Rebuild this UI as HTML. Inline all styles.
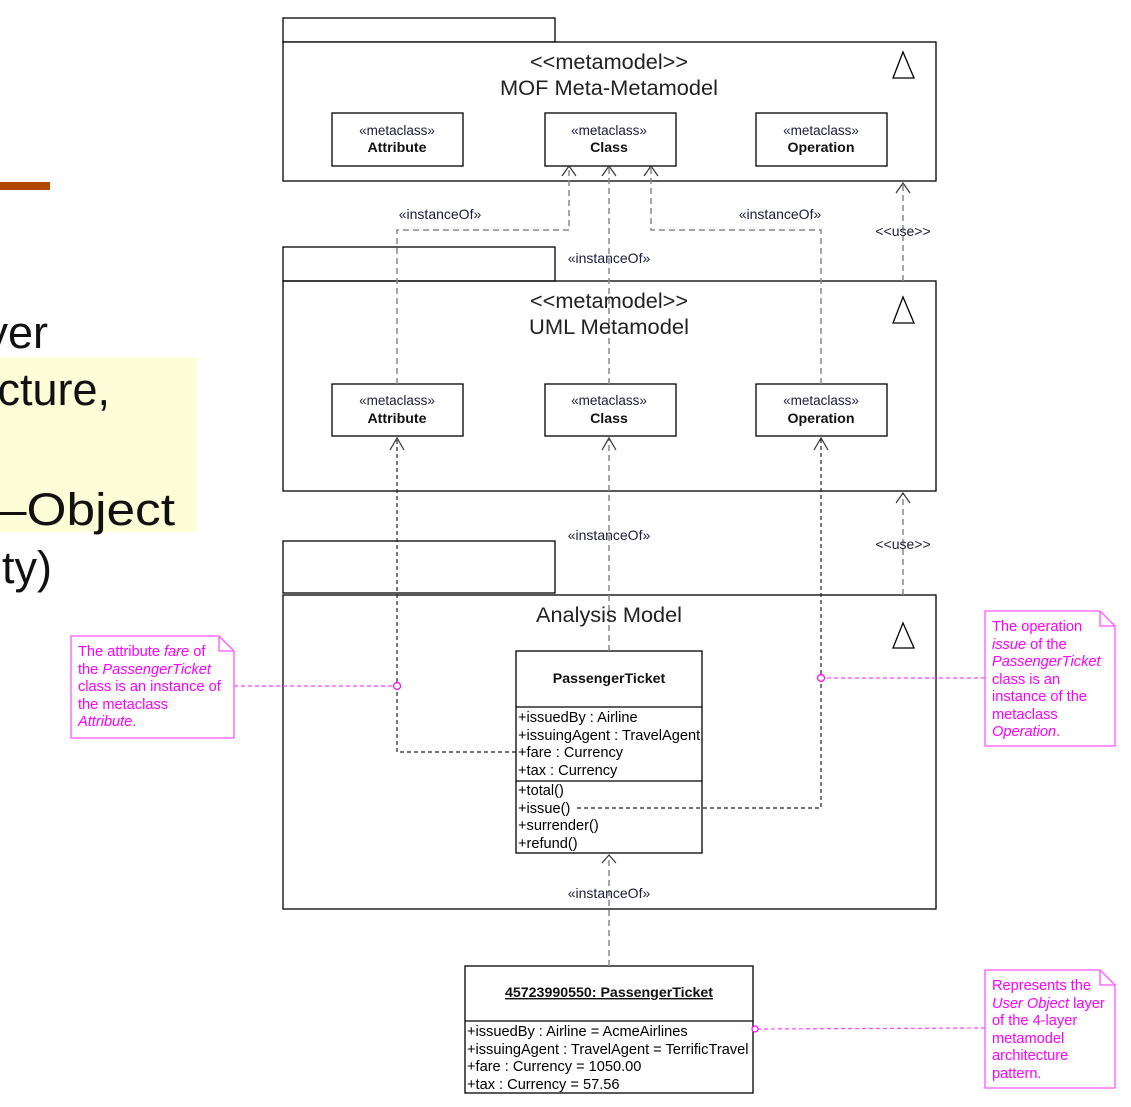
<!DOCTYPE html>
<html><head><meta charset="utf-8"><style>
html,body{margin:0;padding:0;background:#fff;}
svg{display:block;font-family:"Liberation Sans",Arial,sans-serif;}
.st{font-size:13.5px;fill:#1a1a40;}
.bn{font-size:14.2px;font-weight:bold;fill:#111;}
.at{font-size:14.6px;fill:#000;}
.lb{font-size:14px;fill:#1a1a40;}
.nt{font-size:14.6px;fill:#ff00ff;}
.tt{font-size:21px;fill:#222;}
</style></head><body>
<svg width="1131" height="1107" viewBox="0 0 1131 1107" xmlns="http://www.w3.org/2000/svg">
<rect x="0" y="182" width="50" height="8" fill="#b04800"/>
<rect x="0" y="357" width="197" height="175" fill="#fdfdd8"/>
<g font-size="45" fill="#111">
<text x="48" y="348" text-anchor="end">yer</text>
<text x="110" y="405" text-anchor="end">cture,</text>
<text x="-2" y="525" textLength="177" lengthAdjust="spacingAndGlyphs">–Object</text>
<text x="52" y="583" text-anchor="end">ty)</text>
</g>

<g fill="none" stroke="#000" stroke-width="1.3">
<rect x="283" y="18" width="272" height="24"/>
<rect x="283" y="42" width="653" height="139" fill="#fff"/>
<polygon points="903,52 893,78 914,78"/>
<rect x="332" y="113" width="131" height="53"/>
<rect x="545" y="113" width="131" height="53"/>
<rect x="756" y="113" width="131" height="53"/>
<rect x="283" y="247" width="272" height="34"/>
<rect x="283" y="281" width="653" height="210"/>
<polygon points="903,297 893,323 914,323"/>
<rect x="332" y="384" width="131" height="52"/>
<rect x="545" y="384" width="131" height="52"/>
<rect x="756" y="384" width="131" height="52"/>
<rect x="283" y="541" width="272" height="52"/>
<rect x="283" y="595" width="653" height="314"/>
<polygon points="903,623 893,648 914,648"/>
<rect x="516" y="651" width="186" height="202" fill="#fff"/>
<line x1="516" y1="707" x2="702" y2="707"/>
<line x1="516" y1="781" x2="702" y2="781"/>
<rect x="465" y="966" width="288" height="127"/>
<line x1="465" y1="1021" x2="753" y2="1021"/>
</g>

<g fill="none" stroke="#888" stroke-width="1.5" stroke-dasharray="6,4">
<polyline points="397,384 397,230 569,230 569,168"/>
<line x1="609" y1="384" x2="609" y2="168"/>
<polyline points="821,384 821,230 651,230 651,168"/>
<line x1="903" y1="281" x2="903" y2="183"/>
<line x1="903" y1="595" x2="903" y2="493"/>
<line x1="609" y1="651" x2="609" y2="438"/>
<line x1="609" y1="966" x2="609" y2="855"/>
</g>
<g fill="none" stroke="#222" stroke-width="1.2" stroke-dasharray="4,3">
<polyline points="516,752 397,752 397,438"/>
<polyline points="577,808 821,808 821,438"/>
</g>
<g fill="none" stroke="#333" stroke-width="1.2">
<polyline points="562,176 569,166 576,176"/>
<polyline points="602,176 609,166 616,176"/>
<polyline points="644,176 651,166 658,176"/>
<polyline points="896,193 903,183 910,193"/>
<polyline points="896,503 903,493 910,503"/>
<polyline points="390,450 397,438 404,450"/>
<polyline points="602,450 609,438 616,450"/>
<polyline points="814,450 821,438 828,450"/>
<polyline points="602,863 609,855 616,863"/>
</g>

<g text-anchor="middle">
<text class="tt" x="609" y="69" textLength="158" lengthAdjust="spacingAndGlyphs">&lt;&lt;metamodel&gt;&gt;</text>
<text class="tt" x="609" y="95" textLength="218" lengthAdjust="spacingAndGlyphs">MOF Meta-Metamodel</text>
<text class="tt" x="609" y="308" textLength="158" lengthAdjust="spacingAndGlyphs">&lt;&lt;metamodel&gt;&gt;</text>
<text class="tt" x="609" y="334" textLength="160" lengthAdjust="spacingAndGlyphs">UML Metamodel</text>
<text class="tt" x="609" y="622" textLength="146" lengthAdjust="spacingAndGlyphs">Analysis Model</text>

<text class="st" x="397" y="135">«metaclass»</text><text class="bn" x="397" y="152">Attribute</text>
<text class="st" x="609" y="135">«metaclass»</text><text class="bn" x="609" y="152">Class</text>
<text class="st" x="821" y="135">«metaclass»</text><text class="bn" x="821" y="152">Operation</text>
<text class="st" x="397" y="405">«metaclass»</text><text class="bn" x="397" y="423">Attribute</text>
<text class="st" x="609" y="405">«metaclass»</text><text class="bn" x="609" y="423">Class</text>
<text class="st" x="821" y="405">«metaclass»</text><text class="bn" x="821" y="423">Operation</text>

<text class="lb" x="440" y="219">«instanceOf»</text>
<text class="lb" x="780" y="219">«instanceOf»</text>
<text class="lb" x="609" y="263">«instanceOf»</text>
<text class="lb" x="609" y="540">«instanceOf»</text>
<text class="lb" x="609" y="898">«instanceOf»</text>
<text class="lb" x="903" y="236" font-size="12">&lt;&lt;use&gt;&gt;</text>
<text class="lb" x="903" y="549" font-size="12">&lt;&lt;use&gt;&gt;</text>

<text class="bn" x="609" y="683">PassengerTicket</text>
<text class="bn" x="609" y="997" text-decoration="underline">45723990550: PassengerTicket</text>
</g>
<g class="at">
<text x="518" y="722">+issuedBy : Airline</text>
<text x="518" y="740">+issuingAgent : TravelAgent</text>
<text x="518" y="757">+fare : Currency</text>
<text x="518" y="775">+tax : Currency</text>
<text x="518" y="795">+total()</text>
<text x="518" y="813">+issue()</text>
<text x="518" y="830">+surrender()</text>
<text x="518" y="848">+refund()</text>
<text x="467" y="1036">+issuedBy : Airline = AcmeAirlines</text>
<text x="467" y="1054">+issuingAgent : TravelAgent = TerrificTravel</text>
<text x="467" y="1071">+fare : Currency = 1050.00</text>
<text x="467" y="1089">+tax : Currency = 57.56</text>
</g>

<g fill="#fff" stroke="#ff55ff" stroke-width="1.3">
<path d="M71,636 H219 L234,651 V738 H71 Z"/><path d="M219,636 V651 H234" fill="none"/>
<path d="M985,611 H1100 L1115,626 V746 H985 Z"/><path d="M1100,611 V626 H1115" fill="none"/>
<path d="M985,970 H1100 L1115,985 V1088 H985 Z"/><path d="M1100,970 V985 H1115" fill="none"/>
</g>
<g fill="none" stroke="#ff44ff" stroke-width="1.2" stroke-dasharray="4,3">
<line x1="234" y1="686" x2="394" y2="686"/>
<line x1="985" y1="678" x2="825" y2="678"/>
<line x1="985" y1="1028" x2="757" y2="1029"/>
</g>
<g fill="#fff" stroke="#ff00ff" stroke-width="1.2">
<circle cx="397" cy="686" r="3.5"/><circle cx="821" cy="678" r="3.5"/><circle cx="755" cy="1029" r="3"/>
</g>
<g class="nt">
<text x="78" y="656">The attribute <tspan font-style="italic">fare</tspan> of</text>
<text x="78" y="674">the <tspan font-style="italic">PassengerTicket</tspan></text>
<text x="78" y="691">class is an instance of</text>
<text x="78" y="709">the metaclass</text>
<text x="78" y="726" font-style="italic">Attribute<tspan font-style="normal">.</tspan></text>
<text x="992" y="631">The operation</text>
<text x="992" y="649"><tspan font-style="italic">issue</tspan> of the</text>
<text x="992" y="666" font-style="italic">PassengerTicket</text>
<text x="992" y="684">class is an</text>
<text x="992" y="701">instance of the</text>
<text x="992" y="719">metaclass</text>
<text x="992" y="736" font-style="italic">Operation<tspan font-style="normal">.</tspan></text>
<text x="992" y="990">Represents the</text>
<text x="992" y="1008"><tspan font-style="italic">User Object</tspan> layer</text>
<text x="992" y="1025">of the 4-layer</text>
<text x="992" y="1043">metamodel</text>
<text x="992" y="1060">architecture</text>
<text x="992" y="1078">pattern.</text>
</g>
</svg>
</body></html>
